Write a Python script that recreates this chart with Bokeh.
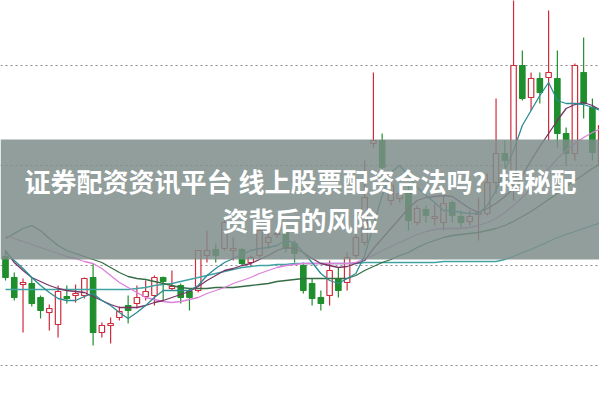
from bokeh.plotting import figure
from bokeh.models import Range1d, BoxAnnotation, Label, Span, ColumnDataSource
from bokeh.embed import file_html
from bokeh.resources import INLINE

# ---- data ----
open_ = [11.09,10.88,10.81,10.82,10.68,10.53,10.41,10.69,10.70,10.70,
         10.88,10.33,10.40,10.48,10.60,10.62,10.69,10.70,10.88,10.77,
         10.80,10.74,10.75,11.10,11.16,11.17,11.15,11.16,11.03,11.10,
         11.23,11.31,11.33,11.22,11.00,10.82,10.68,10.70,10.87,10.83,
         11.10,11.23,12.22,12.25,11.65,11.67,11.75,11.43,11.56,11.47,
         11.43,11.63,11.49,11.44,11.51,11.52,11.83,12.12,11.80,13.00,
         12.68,12.87,12.88,12.87,12.32,12.12,12.93,12.58,12.00]
close = [10.88,10.68,10.83,10.62,10.55,10.57,10.74,10.67,10.72,10.87,
         10.33,10.40,10.42,10.54,10.55,10.68,10.74,10.88,10.84,10.79,
         10.68,10.68,11.15,11.15,11.10,11.43,11.17,11.02,11.08,11.35,
         11.28,11.32,11.17,11.12,10.75,10.67,10.62,10.95,10.75,11.08,
         11.28,11.68,12.25,11.98,11.80,11.72,11.45,11.57,11.50,11.49,
         11.62,11.50,11.43,11.49,11.53,11.83,12.12,12.05,13.00,12.67,
         12.87,12.73,12.93,12.32,12.12,13.00,12.62,12.13,12.40]
high = [11.15,10.93,10.87,10.88,10.70,10.61,10.80,10.80,10.81,10.88,
        11.02,10.43,10.48,10.59,10.70,10.80,10.85,10.90,10.89,10.95,
        10.82,10.77,11.15,11.35,11.22,11.45,11.28,11.18,11.10,11.37,
        11.33,11.35,11.37,11.25,11.03,10.87,10.75,11.05,10.98,11.13,
        11.33,12.05,12.93,12.32,11.87,11.77,11.80,11.60,11.60,11.62,
        11.70,11.65,11.55,11.55,11.68,11.92,12.67,12.25,13.70,13.15,
        12.93,12.93,13.55,13.15,12.38,13.02,13.28,12.67,12.47]
low = [10.85,10.65,10.33,10.59,10.47,10.35,10.28,10.62,10.63,10.67,
       10.20,10.28,10.22,10.45,10.42,10.57,10.65,10.60,10.65,10.75,
       10.62,10.55,10.73,11.03,11.03,11.15,11.05,11.00,11.00,11.08,
       11.17,11.28,11.13,11.03,10.72,10.60,10.55,10.60,10.68,10.75,
       11.07,11.20,12.18,11.95,11.60,11.63,11.35,11.40,11.43,11.40,
       11.35,11.43,11.38,11.40,11.25,11.50,11.72,11.98,11.65,12.65,
       12.55,12.62,12.25,12.18,12.00,12.05,12.47,12.05,11.95]

ma5 = [11.13,11.05,10.97,10.88,10.80,10.73,10.67,10.65,10.65,10.69,
       10.72,10.65,10.60,10.53,10.47,10.53,10.60,10.68,10.75,10.75,
       10.75,10.75,10.80,10.90,10.97,11.03,11.07,11.11,11.15,11.17,
       11.18,11.20,11.25,11.23,11.13,11.03,10.92,10.85,10.82,10.87,
       10.92,11.10,11.40,11.70,11.93,12.00,11.90,11.78,11.70,11.63,
       11.55,11.55,11.53,11.52,11.52,11.60,11.75,11.95,12.15,12.40,
       12.55,12.70,12.83,12.65,12.62,12.62,12.61,12.58,12.55]
ma10 = [11.15,11.03,10.95,10.88,10.84,10.80,10.77,10.75,10.74,10.73,
        10.69,10.65,10.61,10.58,10.58,10.58,10.60,10.63,10.65,10.68,
        10.71,10.74,10.79,10.85,10.90,10.95,10.97,11.00,11.02,11.06,
        11.10,11.15,11.18,11.17,11.13,11.07,11.02,11.00,10.98,10.99,
        11.02,11.05,11.17,11.27,11.37,11.47,11.57,11.65,11.68,11.69,
        11.70,11.69,11.63,11.57,11.53,11.57,11.62,11.69,11.77,11.90,
        12.05,12.19,12.32,12.45,12.57,12.61,12.63,12.60,12.55]
ma20 = [11.30,11.27,11.24,11.21,11.18,11.15,11.12,11.09,11.07,11.04,
        11.02,10.97,10.90,10.83,10.78,10.73,10.68,10.66,10.64,10.63,
        10.64,10.66,10.68,10.72,10.75,10.78,10.82,10.85,10.88,10.92,
        10.95,10.98,11.00,11.01,11.02,11.02,11.02,11.02,11.02,11.02,
        11.03,11.07,11.10,11.15,11.19,11.23,11.27,11.31,11.34,11.36,
        11.37,11.37,11.37,11.38,11.40,11.43,11.47,11.53,11.60,11.68,
        11.77,11.87,11.97,12.07,12.15,12.22,12.28,12.33,12.37]
ma60 = [11.27,11.32,11.37,11.40,11.35,11.27,11.20,11.15,11.12,11.09,
        11.06,11.03,10.98,10.93,10.89,10.87,10.86,10.84,10.82,10.80,
        10.78,10.77,10.77,10.77,10.78,10.78,10.78,10.79,10.80,10.81,
        10.82,10.84,10.85,10.86,10.87,10.87,10.87,10.87,10.87,10.87,
        10.90,10.95,10.99,11.03,11.06,11.10,11.13,11.18,11.22,11.25,
        11.28,11.30,11.31,11.32,11.33,11.35,11.37,11.40,11.44,11.49,
        11.54,11.60,11.66,11.72,11.79,11.85,11.91,11.97,12.02]
ma120 = [10.76,10.76,10.76,10.76,10.76,10.76,10.76,10.76,10.76,10.76,
         10.76,10.76,10.76,10.76,10.76,10.77,10.78,10.80,10.81,10.82,
         10.84,10.86,10.88,10.90,10.92,10.94,10.96,10.98,10.99,11.00,
         11.00,11.01,11.01,11.02,11.02,11.02,11.02,11.02,11.02,11.02,
         11.02,11.03,11.03,11.03,11.03,11.03,11.03,11.03,11.03,11.03,
         11.04,11.04,11.04,11.04,11.04,11.04,11.04,11.06,11.09,11.13,
         11.16,11.20,11.24,11.28,11.31,11.34,11.37,11.40,11.43]

grid_levels = [10, 11, 12, 13]
title_line1 = "证券配资资讯平台 线上股票配资合法吗？揭秘配"
title_line2 = "资背后的风险"

# ---- styles ----
RED = "#d02a3c"
GREEN = "#1e8f2c"
ma_styles = [(ma120, "#3fa3a3"), (ma60, "#356e45"), (ma20, "#dd80dd"),
             (ma10, "#7a3366"), (ma5, "#2a8c94")]

idx = list(range(len(open_)))
up = [c >= o for o, c in zip(open_, close)]
src = ColumnDataSource(dict(
    x=idx, h=high, l=low,
    top=[max(o, c) for o, c in zip(open_, close)],
    bottom=[min(o, c) for o, c in zip(open_, close)],
    color=[RED if u else GREEN for u in up],
    fill=["white" if u else GREEN for u in up],
))

p = figure(width=599, height=399, x_range=Range1d(-0.571, 67.81),
           y_range=Range1d(9.66, 13.65), output_backend="svg",
           toolbar_location=None, x_axis_location=None, y_axis_location=None,
           min_border=0, outline_line_color=None,
           background_fill_color="white", border_fill_color="white")
p.grid.visible = False

for g in grid_levels:
    p.add_layout(Span(location=g, dimension="width", line_color="#8a8a8a",
                      line_dash="2 3", line_width=1, level="underlay"))

p.segment(x0="x", y0="h", x1="x", y1="l", line_color="color", line_width=1.2, source=src)
p.vbar(x="x", width=0.62, top="top", bottom="bottom", fill_color="fill",
       line_color="color", line_width=1.2, source=src)

for series, col in ma_styles:
    p.line(idx, series, line_color=col, line_width=1.3)

p.add_layout(BoxAnnotation(bottom=11.06, top=12.26, fill_color="#7e8d8a",
                           fill_alpha=0.85, line_color=None))

for txt, yy in [(title_line1, 11.85), (title_line2, 11.46)]:
    p.add_layout(Label(x=33.68, y=yy, text=txt, text_color="white",
                       text_font="Noto Sans CJK SC", text_font_style="bold",
                       text_font_size="26px", text_align="center",
                       text_baseline="middle"))

open("out.html", "w").write(file_html(p, INLINE))
